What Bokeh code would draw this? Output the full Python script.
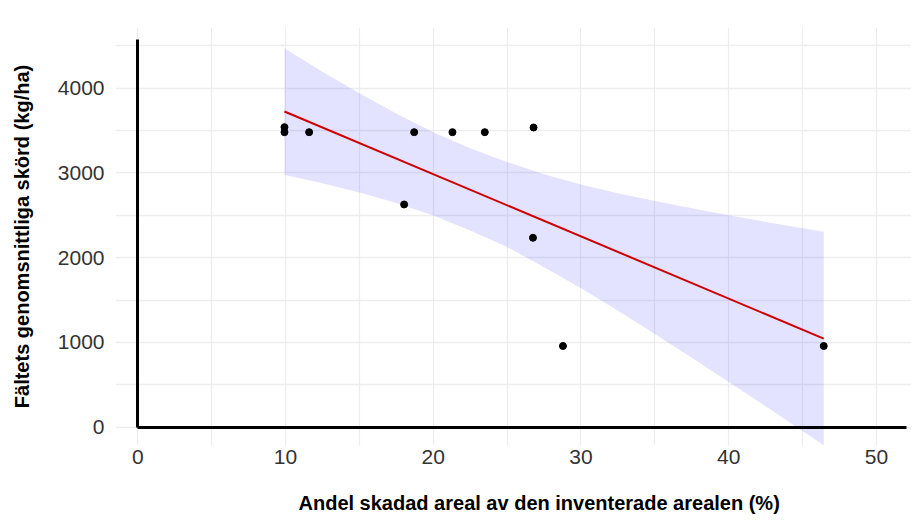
from bokeh.plotting import figure
from bokeh.models import Range1d, FixedTicker, LinearAxis, Title
from bokeh.embed import file_html
from bokeh.resources import INLINE

# Data
damage_pct = [9.93, 9.93, 11.60, 18.71, 21.30, 23.49, 26.79, 18.03, 26.75, 28.78, 46.43]
yield_kg = [3540, 3481, 3481, 3481, 3481, 3481, 3536, 2628, 2235, 958, 958]

fit_x = [9.93, 46.43]
fit_y = [3725, 1045]

band_x = [9.93, 12.5, 15, 17.5, 20, 22.5, 25, 27.5, 30, 32.5, 35, 37.5, 40, 43, 46.43]
band_upper = [4470, 4195, 3940, 3700, 3480, 3290, 3130, 2985, 2865, 2760, 2668, 2582, 2500, 2407, 2305]
band_lower = [2975, 2878, 2770, 2645, 2497, 2322, 2125, 1888, 1638, 1375, 1100, 820, 534, 187, -212]

x_ticks = [0, 10, 20, 30, 40, 50]
x_minor = [5, 15, 25, 35, 45]
y_ticks = [0, 1000, 2000, 3000, 4000]
y_minor = [500, 1500, 2500, 3500, 4500]

x_label = "Andel skadad areal av den inventerade arealen (%)"
y_label = "Fältets genomsnittliga skörd (kg/ha)"

p = figure(width=911, height=518, output_backend="svg", toolbar_location=None,
           x_range=Range1d(-1.506, 52.37), y_range=Range1d(-216, 4716),
           min_border_left=115, min_border_right=0, min_border_top=27,
           min_border_bottom=73, background_fill_color="white",
           border_fill_color="white")
p.outline_line_color = None

p.varea(x=band_x, y1=band_lower, y2=band_upper, fill_color="#0000ff", fill_alpha=0.11)
p.line(fit_x, fit_y, line_color="#cc0000", line_width=2)
p.scatter(damage_pct, yield_kg, size=7, color="black")

p.xaxis.ticker = FixedTicker(ticks=x_ticks, minor_ticks=x_minor)
p.yaxis.ticker = FixedTicker(ticks=y_ticks, minor_ticks=y_minor)

for g in (p.xgrid, p.ygrid):
    g.grid_line_color = "#ededed"
    g.grid_line_width = 1.3
    g.minor_grid_line_color = "#ededed"
    g.minor_grid_line_width = 1.3

# label-carrying axes on the frame edges
for ax in (p.xaxis, p.yaxis):
    ax.axis_line_color = None
    ax.major_tick_line_color = None
    ax.minor_tick_line_color = None
    ax.major_label_text_font = "Liberation Sans"
    ax.major_label_text_font_size = "21px"
    ax.major_label_text_color = "#333333"
    ax.axis_label_text_font = "Liberation Sans"
    ax.axis_label_text_font_style = "bold"
    ax.axis_label_text_font_size = "20px"
    ax.axis_label_text_color = "black"

p.yaxis.axis_label = y_label
p.xaxis.major_label_standoff = -2
p.yaxis.major_label_standoff = 5
p.yaxis.axis_label_standoff = 22

# spacer below the x tick labels so that the title sits lower
p.xaxis.axis_label = " "
p.xaxis.axis_label_text_font_size = "1px"
p.xaxis.axis_label_standoff = 19

# bold black axis lines through the origin
x_line = LinearAxis(fixed_location=0, bounds=(0, 52.03),
                    ticker=FixedTicker(ticks=x_ticks))
y_line = LinearAxis(fixed_location=0, bounds=(0, 4570),
                    ticker=FixedTicker(ticks=y_ticks))
for ax in (x_line, y_line):
    ax.axis_line_color = "black"
    ax.axis_line_width = 3
    ax.major_tick_line_color = None
    ax.minor_tick_line_color = None
    ax.major_label_text_color = None
    ax.major_label_text_font_size = "0px"
p.add_layout(x_line, "below")
p.add_layout(y_line, "left")

# x-axis title, offset to sit under the data region as in the reference
p.add_layout(Title(text=x_label, align="left", offset=183,
                   text_font="Liberation Sans", text_font_style="bold",
                   text_font_size="20px", text_color="black", standoff=0), "below")

open("out.html", "w").write(file_html(p, INLINE))
